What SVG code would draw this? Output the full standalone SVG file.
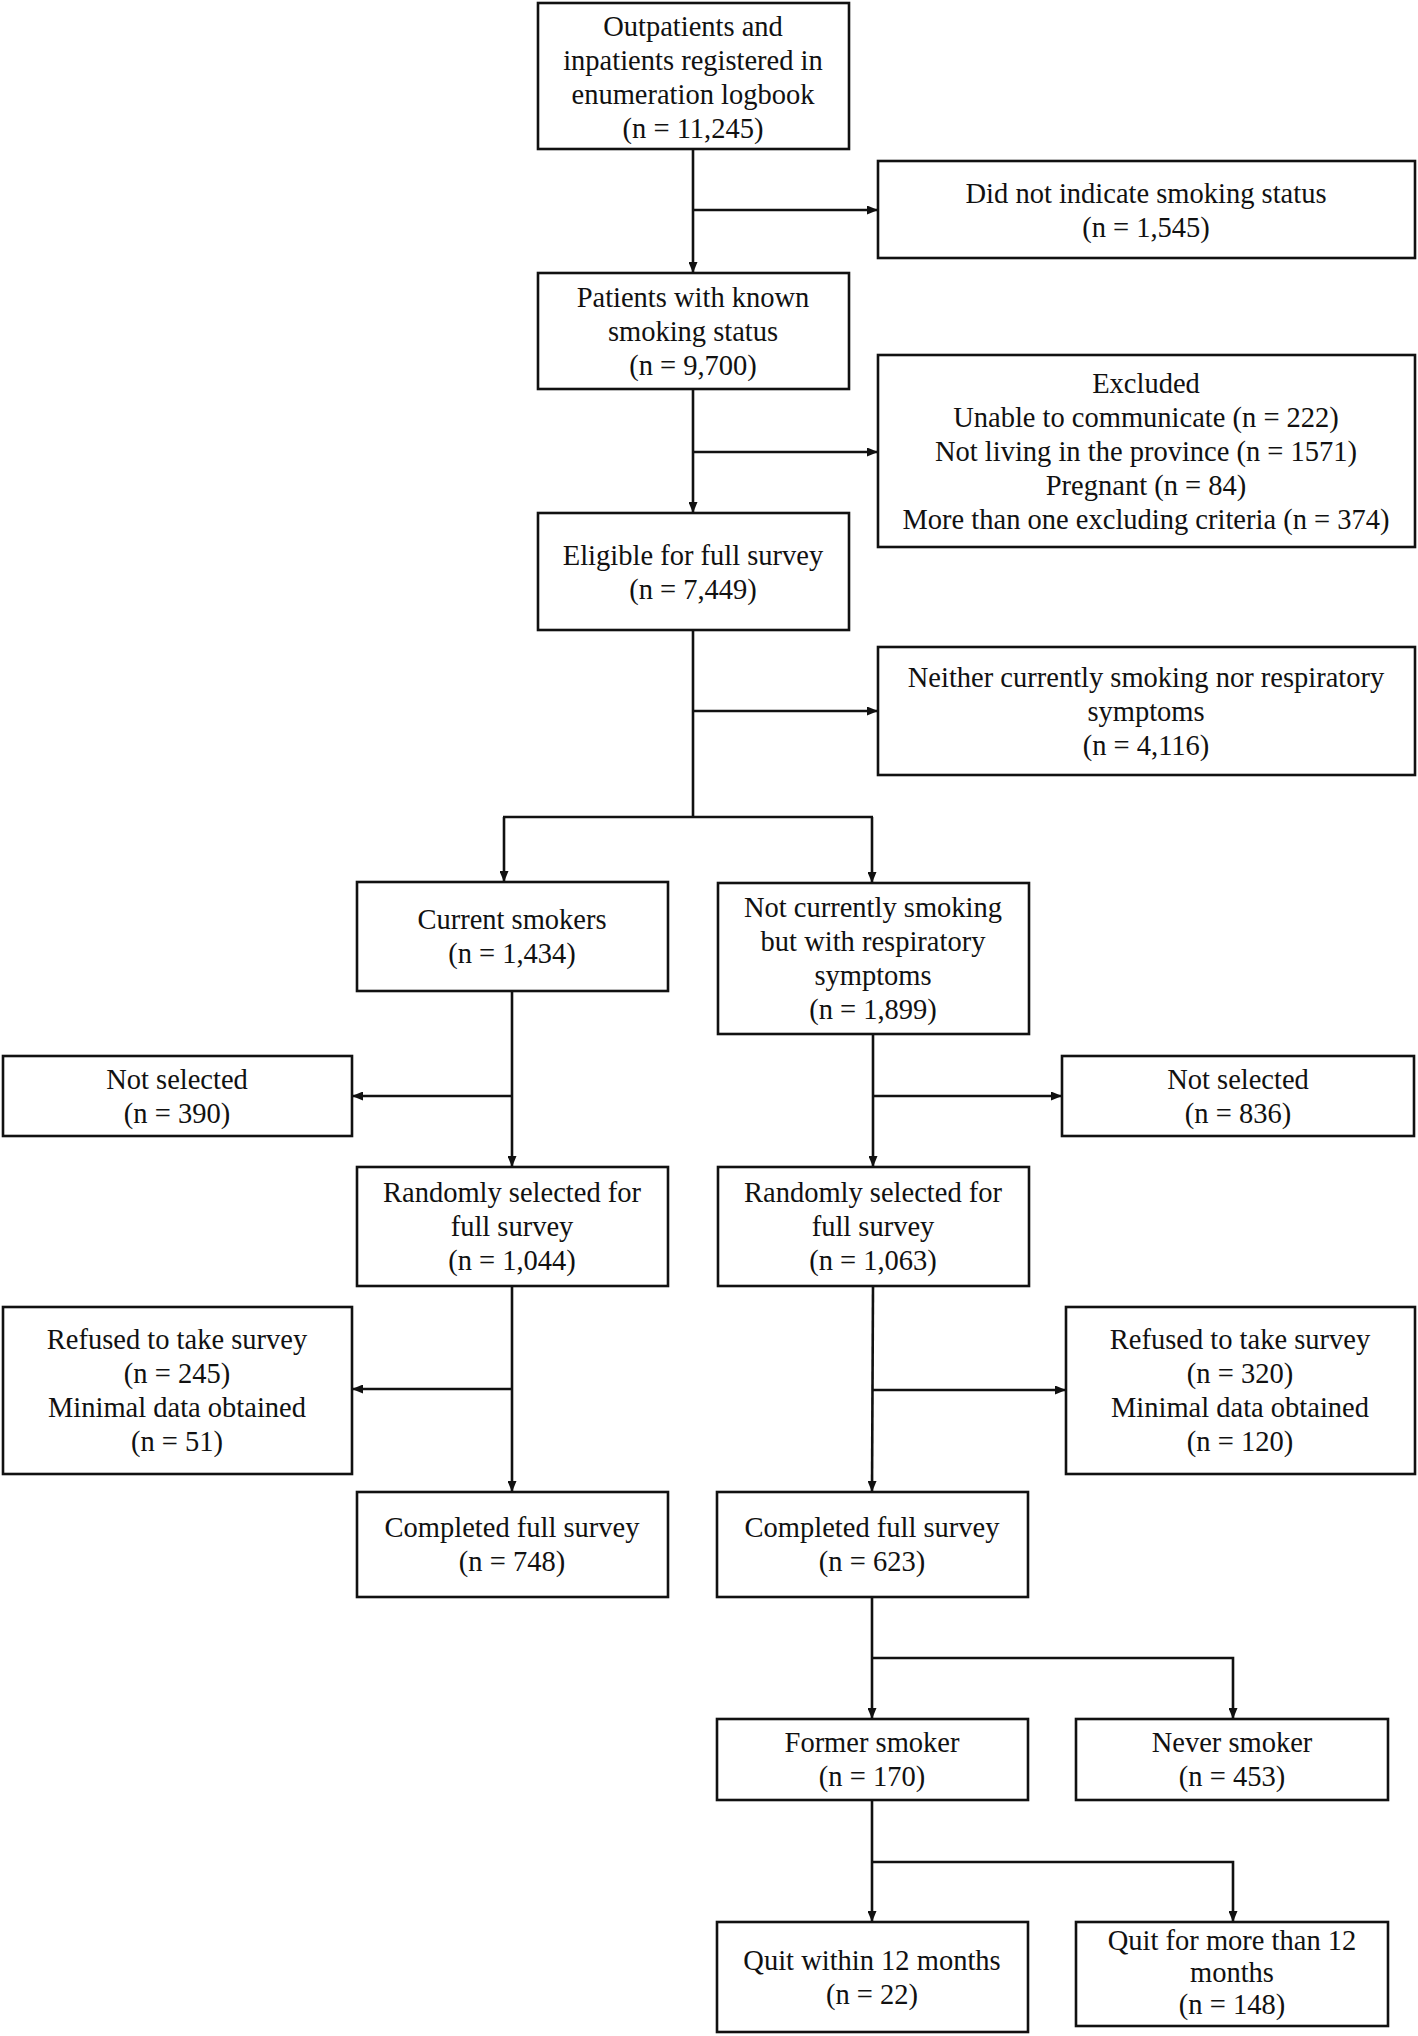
<svg xmlns="http://www.w3.org/2000/svg" width="1418" height="2036" viewBox="0 0 1418 2036">
<style>
rect.b{fill:#fff;stroke:#111;stroke-width:2.6}
text{font-family:"Liberation Serif","Times New Roman",serif;font-size:28.5px;fill:#111;text-anchor:middle}
.c path{fill:none;stroke:#111;stroke-width:2.6}
</style>
<defs>
<marker id="ah" markerUnits="userSpaceOnUse" markerWidth="11" markerHeight="9" refX="10" refY="4.5" orient="auto">
<path d="M0,0 L11,4.5 L0,9 z" fill="#111"/>
</marker>
</defs>
<rect width="1418" height="2036" fill="#fff"/>
<g class="c" id="connectors">
<path d="M693,149 V272" marker-end="url(#ah)"/>
<path d="M693,210 H877" marker-end="url(#ah)"/>
<path d="M693,389 V512" marker-end="url(#ah)"/>
<path d="M693,452 H877" marker-end="url(#ah)"/>
<path d="M693,630 V817"/>
<path d="M693,711 H877" marker-end="url(#ah)"/>
<path d="M503,817 H873"/>
<path d="M504,817 V881" marker-end="url(#ah)"/>
<path d="M872,817 V882" marker-end="url(#ah)"/>
<path d="M512,991 V1166" marker-end="url(#ah)"/>
<path d="M512,1096 H353" marker-end="url(#ah)"/>
<path d="M512,1286 V1491" marker-end="url(#ah)"/>
<path d="M512,1389 H353" marker-end="url(#ah)"/>
<path d="M873,1034 V1166" marker-end="url(#ah)"/>
<path d="M873,1096 H1061" marker-end="url(#ah)"/>
<path d="M873,1286 L872,1491" marker-end="url(#ah)"/>
<path d="M873,1390 H1065" marker-end="url(#ah)"/>
<path d="M872,1597 V1718" marker-end="url(#ah)"/>
<path d="M872,1658 H1233 V1718" marker-end="url(#ah)"/>
<path d="M872,1800 V1921" marker-end="url(#ah)"/>
<path d="M872,1862 H1233 V1921" marker-end="url(#ah)"/>
</g>
<g id="n1"><rect class="b" x="538" y="3" width="311" height="146"/>
<text x="693" y="36">Outpatients and</text><text x="693" y="70">inpatients registered in</text><text x="693" y="104">enumeration logbook</text><text x="693" y="138">(n = 11,245)</text></g>
<g id="n2"><rect class="b" x="878" y="161" width="537" height="97"/>
<text x="1146" y="203">Did not indicate smoking status</text><text x="1146" y="237">(n = 1,545)</text></g>
<g id="n3"><rect class="b" x="538" y="273" width="311" height="116"/>
<text x="693" y="307">Patients with known</text><text x="693" y="341">smoking status</text><text x="693" y="375">(n = 9,700)</text></g>
<g id="n4"><rect class="b" x="878" y="355" width="537" height="192"/>
<text x="1146" y="393">Excluded</text><text x="1146" y="427">Unable to communicate (n = 222)</text><text x="1146" y="461">Not living in the province (n = 1571)</text><text x="1146" y="495">Pregnant (n = 84)</text><text x="1146" y="529">More than one excluding criteria (n = 374)</text></g>
<g id="n5"><rect class="b" x="538" y="513" width="311" height="117"/>
<text x="693" y="565">Eligible for full survey</text><text x="693" y="599">(n = 7,449)</text></g>
<g id="n6"><rect class="b" x="878" y="647" width="537" height="128"/>
<text x="1146" y="687">Neither currently smoking nor respiratory</text><text x="1146" y="721">symptoms</text><text x="1146" y="755">(n = 4,116)</text></g>
<g id="n7"><rect class="b" x="357" y="882" width="311" height="109"/>
<text x="512" y="929">Current smokers</text><text x="512" y="963">(n = 1,434)</text></g>
<g id="n8"><rect class="b" x="718" y="883" width="311" height="151"/>
<text x="873" y="917">Not currently smoking</text><text x="873" y="951">but with respiratory</text><text x="873" y="985">symptoms</text><text x="873" y="1019">(n = 1,899)</text></g>
<g id="n9"><rect class="b" x="3" y="1056" width="349" height="80"/>
<text x="177" y="1089">Not selected</text><text x="177" y="1123">(n = 390)</text></g>
<g id="n10"><rect class="b" x="1062" y="1056" width="352" height="80"/>
<text x="1238" y="1089">Not selected</text><text x="1238" y="1123">(n = 836)</text></g>
<g id="n11"><rect class="b" x="357" y="1167" width="311" height="119"/>
<text x="512" y="1202">Randomly selected for</text><text x="512" y="1236">full survey</text><text x="512" y="1270">(n = 1,044)</text></g>
<g id="n12"><rect class="b" x="718" y="1167" width="311" height="119"/>
<text x="873" y="1202">Randomly selected for</text><text x="873" y="1236">full survey</text><text x="873" y="1270">(n = 1,063)</text></g>
<g id="n13"><rect class="b" x="3" y="1307" width="349" height="167"/>
<text x="177" y="1349">Refused to take survey</text><text x="177" y="1383">(n = 245)</text><text x="177" y="1417">Minimal data obtained</text><text x="177" y="1451">(n = 51)</text></g>
<g id="n14"><rect class="b" x="1066" y="1307" width="349" height="167"/>
<text x="1240" y="1349">Refused to take survey</text><text x="1240" y="1383">(n = 320)</text><text x="1240" y="1417">Minimal data obtained</text><text x="1240" y="1451">(n = 120)</text></g>
<g id="n15"><rect class="b" x="357" y="1492" width="311" height="105"/>
<text x="512" y="1537">Completed full survey</text><text x="512" y="1571">(n = 748)</text></g>
<g id="n16"><rect class="b" x="717" y="1492" width="311" height="105"/>
<text x="872" y="1537">Completed full survey</text><text x="872" y="1571">(n = 623)</text></g>
<g id="n17"><rect class="b" x="717" y="1719" width="311" height="81"/>
<text x="872" y="1752">Former smoker</text><text x="872" y="1786">(n = 170)</text></g>
<g id="n18"><rect class="b" x="1076" y="1719" width="312" height="81"/>
<text x="1232" y="1752">Never smoker</text><text x="1232" y="1786">(n = 453)</text></g>
<g id="n19"><rect class="b" x="717" y="1922" width="311" height="110"/>
<text x="872" y="1970">Quit within 12 months</text><text x="872" y="2004">(n = 22)</text></g>
<g id="n20"><rect class="b" x="1076" y="1922" width="312" height="104"/>
<text x="1232" y="1950">Quit for more than 12</text><text x="1232" y="1982">months</text><text x="1232" y="2014">(n = 148)</text></g>
</svg>
